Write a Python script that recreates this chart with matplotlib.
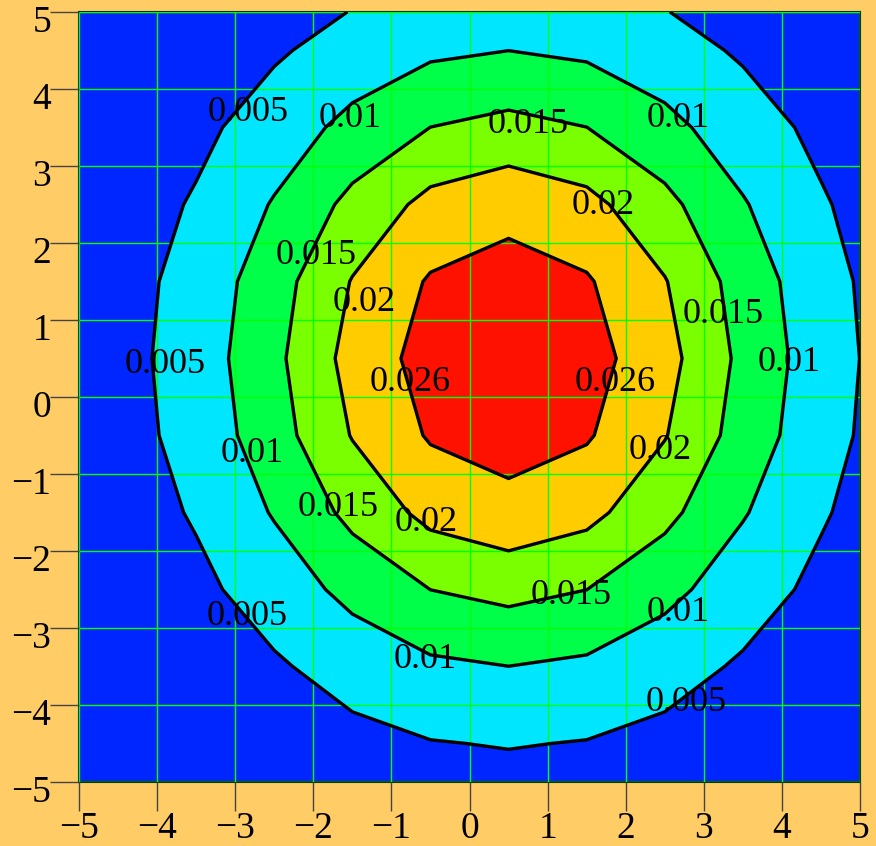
import numpy as np
import matplotlib
matplotlib.use("Agg")
import matplotlib.pyplot as plt
import matplotlib.transforms as mtransforms

plt.rcParams['font.family'] = ['Liberation Serif', 'DejaVu Serif']

# sampling grid (bin centres plus the frame edges)
xs = [-5, -4.5, -3.5, -2.5, -1.5, -0.5, 0.5, 1.5, 2.5, 3.5, 4.5, 5]
ys = [-5, -4.5, -3.5, -2.5, -1.5, -0.5, 0.5, 1.5, 2.5, 3.5, 4.5, 5]

# density values on the grid, in units of 1e-4 (rows = y, columns = x)
dens_e4 = [
    [2.30, 3.71, 8.42, 15.91, 25.07, 32.93, 36.06, 32.93, 25.07, 15.91, 8.42, 5.72],
    [3.35, 5.41, 12.26, 23.16, 36.49, 47.93, 52.49, 47.93, 36.49, 23.16, 12.26, 8.33],
    [6.38, 10.28, 23.31, 44.04, 69.38, 91.15, 99.82, 91.15, 69.38, 44.04, 23.31, 15.84],
    [10.52, 16.95, 38.43, 72.61, 114.40, 150.28, 164.58, 150.28, 114.40, 72.61, 38.43, 26.12],
    [15.03, 24.23, 54.92, 103.78, 163.50, 214.78, 235.22, 214.78, 163.50, 103.78, 54.92, 37.33],
    [18.62, 30.02, 68.05, 128.58, 202.57, 266.11, 291.43, 266.11, 202.57, 128.58, 68.05, 46.25],
    [20.00, 32.24, 73.09, 138.10, 217.57, 285.80, 313.00, 285.80, 217.57, 138.10, 73.09, 49.67],
    [18.62, 30.02, 68.05, 128.58, 202.57, 266.11, 291.43, 266.11, 202.57, 128.58, 68.05, 46.25],
    [15.03, 24.23, 54.92, 103.78, 163.50, 214.78, 235.22, 214.78, 163.50, 103.78, 54.92, 37.33],
    [10.52, 16.95, 38.43, 72.61, 114.40, 150.28, 164.58, 150.28, 114.40, 72.61, 38.43, 26.12],
    [6.38, 10.28, 23.31, 44.04, 69.38, 91.15, 99.82, 91.15, 69.38, 44.04, 23.31, 15.84],
    [4.71, 7.59, 17.20, 32.51, 51.21, 67.28, 73.68, 67.28, 51.21, 32.51, 17.20, 11.69],
]

levels = [0.005, 0.01, 0.015, 0.02, 0.026]
band_colors = ['#0026ff', '#00e6ff', '#00ff48', '#7aff00', '#ffcc00', '#ff1100']

# contour labels: (x, y, level index)
label_pos = [
    (-2.84, 3.73, 0), (-1.53, 3.64, 1), (0.75, 3.57, 2), (2.67, 3.64, 1),
    (1.71, 2.51, 3), (-1.97, 1.87, 2), (-1.35, 1.26, 3), (3.25, 1.10, 2),
    (-3.90, 0.45, 0), (4.09, 0.48, 1), (-0.76, 0.22, 4), (1.86, 0.22, 4),
    (-2.78, -0.71, 1), (2.44, -0.66, 3), (-1.68, -1.40, 2), (-0.56, -1.60, 3),
    (-2.85, -2.82, 0), (1.30, -2.55, 2), (2.67, -2.77, 1), (-0.57, -3.38, 1),
    (2.77, -3.94, 0),
]

x = np.array(xs)
y = np.array(ys)
z = np.array(dens_e4) * 1e-4

fig = plt.figure(figsize=(8.76, 8.46), dpi=100, facecolor='#ffcc66')
ax = fig.add_axes([0.0902, 0.0757, 0.8916, 0.9102])

ax.contourf(x, y, z, levels=[0.0] + levels + [0.035], colors=band_colors, zorder=1)
ax.contour(x, y, z, levels=levels, colors='black', linewidths=2.4, zorder=3)

for lx, ly, i in label_pos:
    ax.text(lx, ly - 0.03, f'{levels[i]:g}', fontsize=26, ha='center', va='center', zorder=4)

ax.set_xlim(-5, 5)
ax.set_ylim(-5, 5)
ax.set_xticks(range(-5, 6))
ax.set_yticks(range(-5, 6))
ax.grid(True, color='#00ff00', linewidth=1.0, zorder=2)
ax.set_axisbelow(False)

ax.tick_params(axis='both', direction='out', length=21, width=1, color='#444444', labelsize=27)
ax.tick_params(axis='y', pad=-1)
ax.tick_params(axis='x', pad=0)
for sp in ax.spines.values():
    sp.set_color('#004000')
    sp.set_linewidth(1.5)

# y labels sit a little below their ticks
shift = mtransforms.ScaledTranslation(0, -5 / 72, fig.dpi_scale_trans)
for lab in ax.get_yticklabels():
    lab.set_transform(lab.get_transform() + shift)

fig.savefig('out.png', dpi=100, facecolor=fig.get_facecolor())
